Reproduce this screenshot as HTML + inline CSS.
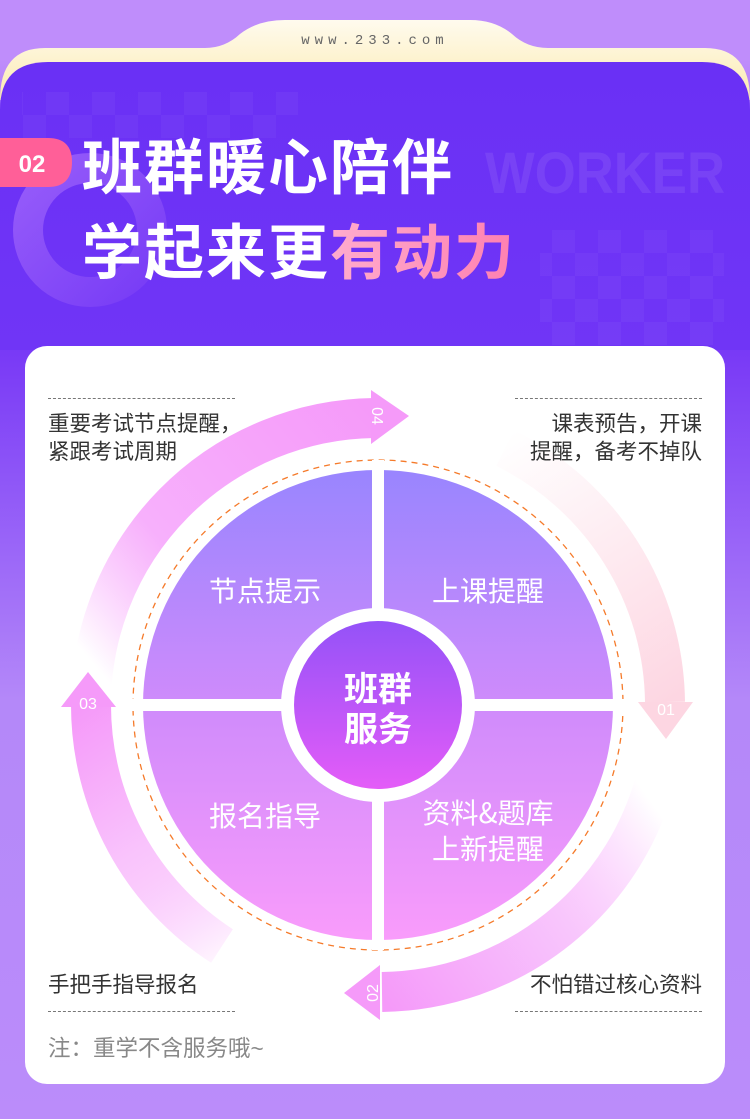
<!DOCTYPE html>
<html><head><meta charset="utf-8"><style>
html,body{margin:0;padding:0}
body{width:750px;height:1119px;position:relative;overflow:hidden;font-family:"Liberation Sans","Noto Sans CJK SC",sans-serif;background:linear-gradient(#bf8dfb 0,#bf8dfb 60px,#7035f6 300px,#7a3bf6 360px,#b488f9 700px,#bb8cfa 1119px)}
.abs{position:absolute}
.t{position:absolute;font-size:21.5px;color:#333;line-height:28px;white-space:nowrap}
.dash{position:absolute;height:0;border-top:1.5px dashed #777}
</style></head><body>
<svg class="abs" style="left:0;top:0" width="750" height="350">
<defs>
<linearGradient id="cream" x1="0" y1="0" x2="0" y2="1"><stop offset="0" stop-color="#fffbee"/><stop offset="1" stop-color="#fbeab0"/></linearGradient>
<linearGradient id="hdr" x1="0" y1="0" x2="0" y2="1"><stop offset="0" stop-color="#6a30f5"/><stop offset="1" stop-color="#7035f6"/></linearGradient>
<linearGradient id="pk" x1="0" y1="0" x2="1" y2="0"><stop offset="0" stop-color="#ffe8f4"/><stop offset="1" stop-color="#ff7fb0"/></linearGradient>
<linearGradient id="ring" x1="0" y1="0" x2="1" y2="1"><stop offset="0" stop-color="#a066fb"/><stop offset="1" stop-color="#7a3ef6"/></linearGradient>
<pattern id="chk" width="46" height="46" patternUnits="userSpaceOnUse"><rect width="23" height="23" fill="#fff" opacity="0.035"/><rect x="23" y="23" width="23" height="23" fill="#fff" opacity="0.035"/></pattern>
</defs>
<path d="M0 100 Q0 48 45 48 L205 48 Q225 48 240 34 Q258 20 285 20 L470 20 Q495 20 512 34 Q527 48 548 48 L705 48 Q750 48 750 100 Z" fill="url(#cream)"/>
<path d="M0 110 Q0 62 48 62 L702 62 Q750 62 750 110 L750 350 L0 350 Z" fill="url(#hdr)"/>
<rect x="22" y="92" width="276" height="46" fill="url(#chk)"/>
<rect x="540" y="230" width="184" height="115" fill="url(#chk)"/>
<circle cx="90" cy="230" r="62" fill="none" stroke="url(#ring)" stroke-width="30" opacity="0.8"/>
<text x="375" y="44" text-anchor="middle" font-family="Liberation Mono,monospace" font-size="14" fill="#666" letter-spacing="5">www.233.com</text>
<text x="485" y="193" font-family="Liberation Sans,sans-serif" font-weight="bold" font-size="58" fill="#fff" opacity="0.08" textLength="240" lengthAdjust="spacingAndGlyphs">WORKER</text>
<path d="M0 138 L48 138 Q72 138 72 162 Q72 187 48 187 L0 187 Z" fill="#ff5f98"/>
<text x="32" y="172" text-anchor="middle" font-family="Liberation Sans,sans-serif" font-weight="bold" font-size="24" fill="#fff">02</text>
<text x="82" y="189" font-family="Noto Sans CJK SC,sans-serif" font-weight="bold" font-size="60" fill="#fff" letter-spacing="2">班群暖心陪伴</text>
<text x="82" y="274" font-family="Noto Sans CJK SC,sans-serif" font-weight="bold" font-size="60" fill="#fff" letter-spacing="2">学起来更<tspan fill="url(#pk)">有动力</tspan></text>
</svg>
<div class="abs" style="left:25px;top:346px;width:700px;height:738px;background:#fff;border-radius:22px"></div>
<svg class="abs" style="left:0;top:0" width="750" height="1119">
<defs>
<linearGradient id="g04" gradientUnits="userSpaceOnUse" x1="90" y1="660" x2="378" y2="417"><stop offset="0" stop-color="#f7a0fb" stop-opacity="0"/><stop offset="0.35" stop-color="#f7b0fc"/><stop offset="1" stop-color="#f59af9"/></linearGradient>
<linearGradient id="g03" gradientUnits="userSpaceOnUse" x1="250" y1="960" x2="90" y2="705"><stop offset="0" stop-color="#f7a0fb" stop-opacity="0"/><stop offset="0.5" stop-color="#f9c4fc"/><stop offset="1" stop-color="#f59af9"/></linearGradient>
<linearGradient id="g01" gradientUnits="userSpaceOnUse" x1="500" y1="440" x2="665" y2="705"><stop offset="0" stop-color="#fdd6e2" stop-opacity="0"/><stop offset="1" stop-color="#fdd6e2"/></linearGradient>
<linearGradient id="g02" gradientUnits="userSpaceOnUse" x1="650" y1="800" x2="378" y2="992"><stop offset="0" stop-color="#f7a0fb" stop-opacity="0"/><stop offset="0.5" stop-color="#f7c0fc"/><stop offset="1" stop-color="#f59af9"/></linearGradient>
<linearGradient id="qd" x1="0" y1="0" x2="0" y2="1"><stop offset="0" stop-color="#9985fe"/><stop offset="0.5" stop-color="#cf8bfb"/><stop offset="1" stop-color="#f99cfb"/></linearGradient>
<linearGradient id="cc" x1="0" y1="0" x2="0" y2="1"><stop offset="0" stop-color="#9452f8"/><stop offset="1" stop-color="#e45cf8"/></linearGradient>
</defs>
<path d="M91 705 A287 287 0 0 1 374 418" fill="none" stroke="url(#g04)" stroke-width="40"/>
<polygon points="371,390 371,444 409,416" fill="#f59af9"/>
<path d="M222 946 A287 287 0 0 1 91 705" fill="none" stroke="url(#g03)" stroke-width="40"/>
<polygon points="61,707 116,707 88,672" fill="#f59af9"/>
<path d="M505 448 A287 287 0 0 1 665 702" fill="none" stroke="url(#g01)" stroke-width="40"/>
<polygon points="638,702 693,702 666,739" fill="#fdd6e2"/>
<path d="M658 770 A287 287 0 0 1 382 992" fill="none" stroke="url(#g02)" stroke-width="40"/>
<polygon points="380,965 380,1020 344,993" fill="#f59af9"/>
<text transform="translate(378,416) rotate(90)" text-anchor="middle" dy="6" font-size="16" fill="#fff" font-family="Liberation Sans,sans-serif">04</text>
<text x="666" y="715" text-anchor="middle" font-size="16" fill="#fff" font-family="Liberation Sans,sans-serif">01</text>
<text x="88" y="709" text-anchor="middle" font-size="16" fill="#fff" font-family="Liberation Sans,sans-serif">03</text>
<text transform="translate(372,993) rotate(-90)" text-anchor="middle" dy="6" font-size="16" fill="#fff" font-family="Liberation Sans,sans-serif">02</text>
<circle cx="378" cy="705" r="245" fill="none" stroke="#f57a2a" stroke-width="1.3" stroke-dasharray="6 5"/>
<circle cx="378" cy="705" r="235" fill="url(#qd)"/>
<rect x="372" y="460" width="12" height="490" fill="#fff"/>
<rect x="130" y="699" width="496" height="12" fill="#fff"/>
<circle cx="378" cy="705" r="97" fill="#fff"/>
<circle cx="378" cy="705" r="84" fill="url(#cc)"/>
<g font-family="Noto Sans CJK SC,sans-serif" fill="#fff" font-size="28" text-anchor="middle">
<text x="265" y="601">节点提示</text>
<text x="488" y="601">上课提醒</text>
<text x="265" y="826">报名指导</text>
<text x="488" y="823">资料&amp;题库</text>
<text x="488" y="859">上新提醒</text>
<text x="378" y="701" font-weight="bold" font-size="34">班群</text>
<text x="378" y="741" font-weight="bold" font-size="34">服务</text>
</g>
</svg>
<div class="dash" style="left:48px;top:398px;width:187px"></div>
<div class="dash" style="left:515px;top:398px;width:187px"></div>
<div class="dash" style="left:48px;top:1011px;width:187px"></div>
<div class="dash" style="left:515px;top:1011px;width:187px"></div>
<div class="t" style="left:48px;top:410px">重要考试节点提醒，<br>紧跟考试周期</div>
<div class="t" style="right:48px;top:410px;text-align:right">课表预告，开课<br>提醒，备考不掉队</div>
<div class="t" style="left:48px;top:971px">手把手指导报名</div>
<div class="t" style="right:48px;top:971px">不怕错过核心资料</div>
<div class="t" style="left:48px;top:1035px;color:#888;font-size:22.5px">注：重学不含服务哦~</div>
</body></html>
